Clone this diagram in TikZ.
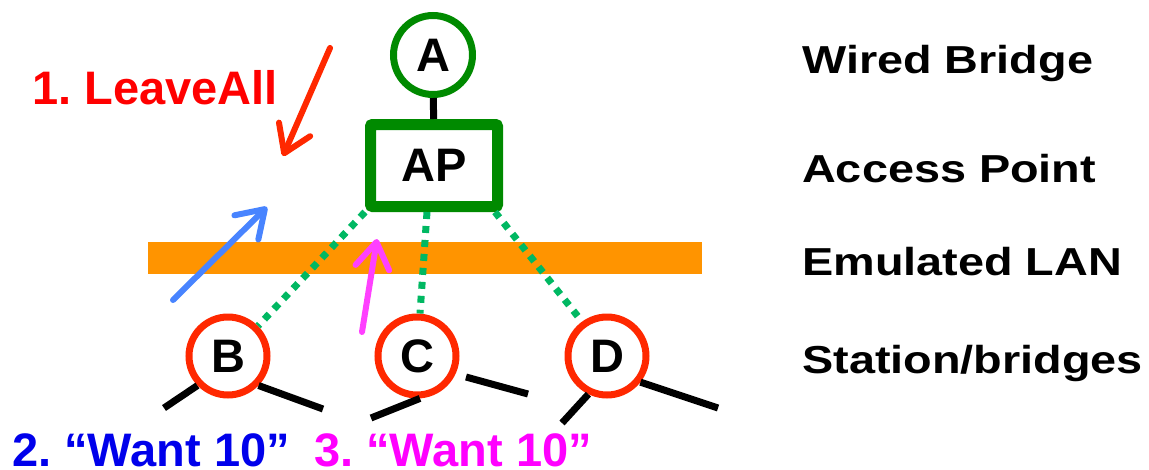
\documentclass[tikz,border=0pt]{standalone}
\usepackage{fontspec}
\setmainfont{Liberation Sans}
\newfontfamily\sidefont{Liberation Sans}[FakeStretch=1.2]
\usetikzlibrary{arrows.meta,calc}
\definecolor{apgreen}{RGB}{0,138,0}
\definecolor{linkgreen}{RGB}{0,184,98}
\definecolor{stared}{RGB}{255,40,0}
\definecolor{lanorange}{RGB}{255,148,0}
\definecolor{arrowblue}{RGB}{72,132,255}
\definecolor{arrowpink}{RGB}{255,64,255}
\definecolor{msgblue}{RGB}{0,0,235}
\definecolor{msgpink}{RGB}{255,0,255}
\def\lblsize{\frenchspacing\fontsize{47}{56}\selectfont\bfseries}
\def\sidesize{\frenchspacing\sidefont\fontsize{39}{46}\selectfont\bfseries}

\begin{document}
\begin{tikzpicture}[x=1pt,y=-1pt,
	station/.style={circle,draw=stared,line width=7pt,fill=white,minimum size=78pt,inner sep=0pt,font=\lblsize},
	link/.style={linkgreen,line width=7pt,dash pattern=on 7pt off 7pt},
	stub/.style={black,line width=7pt},
	msg/.style={line width=6pt,line cap=round,-{Straight Barb[length=26pt,width=34pt,round]}},
	side/.style={anchor=base west,inner sep=0pt,font=\sidesize},
	say/.style={anchor=base west,inner sep=0pt,font=\lblsize}]
			%%%%% START %%%%%
			\useasboundingbox (0,0) rectangle (1149,469);
			
			\fill[lanorange] (148,242) rectangle (702,274);
			
			\node[circle,draw=apgreen,line width=7pt,fill=white,minimum size=79pt,inner sep=0pt,font=\lblsize] (A) at (433,55) {A};
			\node[draw=apgreen,line width=11pt,fill=white,minimum width=127pt,minimum height=82pt,rounded corners=2pt,font=\lblsize] (AP) at (434,165.5) {AP};
			\draw[stub] (A) -- (AP);
			
			\coordinate (b1) at (164,408);
			\coordinate (b2) at (323,409);
			\coordinate (c1) at (371,418);
			\coordinate (c2) at (466,377);
			\coordinate (c3) at (528,394);
			\coordinate (d1) at (562,423);
			\coordinate (d2) at (718,408);
			
			\node[station] (B) at (228,356) {B};
			\node[station] (C) at (417,356) {C};
			\node[station] (D) at (607,356) {D};
			
			\draw[link] (AP.south west) -- (B.45);
			\draw[link] ([xshift=-7pt]AP.south) -- ([xshift=3pt]C.north);
			\draw[link] ([xshift=-8pt]AP.south east) -- (D.126);
			
			\draw[stub] (B.224) -- (b1);
			\draw[stub] (B.-44) -- (b2);
			\draw[stub] (C.-86) -- (c1);
			\draw[stub] (c2) -- (c3);
			\draw[stub] (D.-116) -- (d1);
			\draw[stub] (D.-38) -- (d2);
			
			\draw[msg,stared] (330,48) -- (283,156);
			\draw[msg,arrowblue] (173,300) -- (267,207);
			\draw[msg,arrowpink] (362,332) -- (377,239);
			
			\node[say,text=red] (leave) at (32,104) {1. LeaveAll};
			\node[say,text=msgblue] (want2) at (12,466) {2. “Want 10”};
			\node[say,text=msgpink] (want3) at (314,466) {3. “Want 10”};
			
			\node[side] (wired) at (802,73) {Wired Bridge};
			\node[side] (access) at (802,182) {Access Point};
			\node[side] (lan) at (802,275) {Emulated LAN};
			\node[side] (stations) at (802,373) {Station/bridges};
			%%%%% END %%%%%
\end{tikzpicture}
\end{document}
